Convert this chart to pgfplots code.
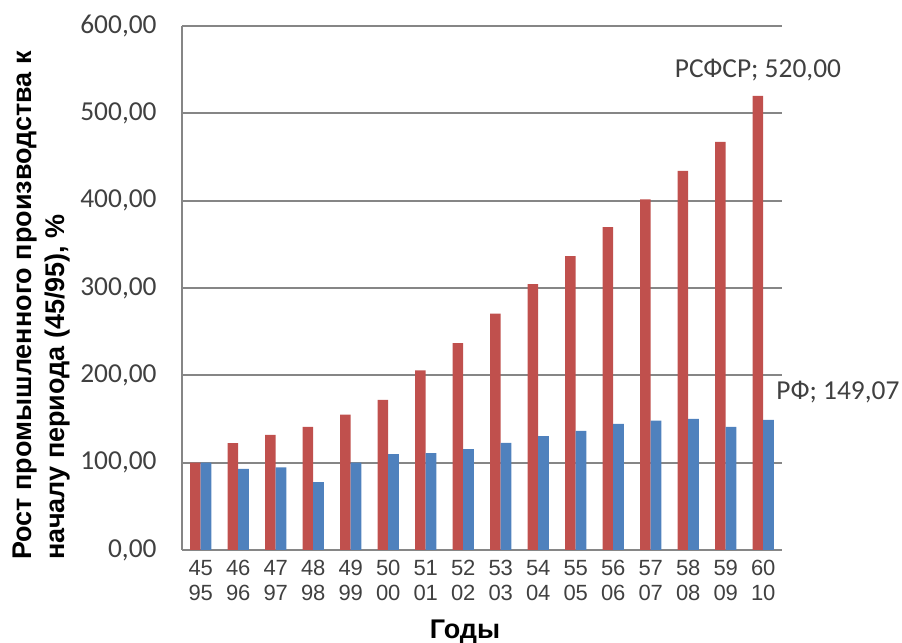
\documentclass[border=0pt]{standalone}
\usepackage{fontspec}
\setmainfont{Carlito}
\newfontfamily\arial{Liberation Sans}
\usepackage{pgfplots}
\pgfplotsset{compat=1.18}
\usetikzlibrary{calc}
\definecolor{rsfsr}{RGB}{192,80,77}
\definecolor{rf}{RGB}{79,129,189}
\definecolor{gridgray}{RGB}{134,134,134}
\definecolor{txtgray}{RGB}{64,64,64}
\begin{document}
\begin{tikzpicture}
\begin{axis}[
  name=ax,
  scale only axis,
  width=300pt, height=262pt,
  xmin=-0.5, xmax=15.5, ymin=0, ymax=600,
  ybar=0pt, bar width=5.35pt,
  axis x line=bottom, axis y line=left,
  axis line style={gridgray, line width=0.9pt, -},
  ymajorgrids, grid style={gridgray, line width=0.9pt},
  major tick length=0pt,
  xtick={0,...,15},
  xticklabels={{45\\95},{46\\96},{47\\97},{48\\98},{49\\99},{50\\00},{51\\01},{52\\02},{53\\03},{54\\04},{55\\05},{56\\06},{57\\07},{58\\08},{59\\09},{60\\10}},
  ytick={0,100,200,300,400,500,600},
  yticklabels={{0,00},{100,00},{200,00},{300,00},{400,00},{500,00},{600,00}},
  yticklabel style={font=\fontsize{13.7}{16}\selectfont, text=txtgray, inner sep=0pt, xshift=-12.5pt},
  xticklabel style={font=\arial\fontsize{11}{12.5}\selectfont, text=txtgray, align=center, inner sep=0pt, yshift=-5pt},
  clip=false,
]
\addplot[fill=rsfsr, draw=none] coordinates {
  (0,100) (1,122.3) (2,131.8) (3,141) (4,155) (5,172) (6,205.7) (7,237)
  (8,270.6) (9,304.5) (10,336.5) (11,369.8) (12,401.6) (13,434) (14,467.3) (15,520)};
\addplot[fill=rf, draw=none] coordinates {
  (0,100) (1,93) (2,94.5) (3,77.7) (4,100) (5,109.7) (6,111) (7,115.4)
  (8,122.8) (9,130.4) (10,136.5) (11,144.5) (12,148.2) (13,150.2) (14,141.1) (15,149.07)};
\node[font=\fontsize{13.7}{16}\selectfont, text=txtgray, inner sep=0pt] at (axis cs:14.86,550) {РСФСР; 520,00};
\node[font=\fontsize{13.7}{16}\selectfont, text=txtgray, inner sep=0pt, anchor=west] at (axis cs:15.34,181) {РФ; 149,07};
\end{axis}
\node[rotate=90, anchor=north west, inner sep=0pt, align=left, font=\arial\bfseries\fontsize{13.5}{16.5}\selectfont] at ($(ax.south west)+(-84.5pt,-5pt)$) {Рост промышленного производства к\\началу периода (45/95), \%};
\node[font=\arial\bfseries\fontsize{13.5}{16}\selectfont] at ($(ax.south west)+(141.5pt,-41pt)$) {Годы};
\pgfresetboundingbox
\path[use as bounding box] ($(ax.south west)+(-91pt,-46.5pt)$) rectangle ($(ax.south west)+(360pt,275pt)$);
\end{tikzpicture}
\end{document}
